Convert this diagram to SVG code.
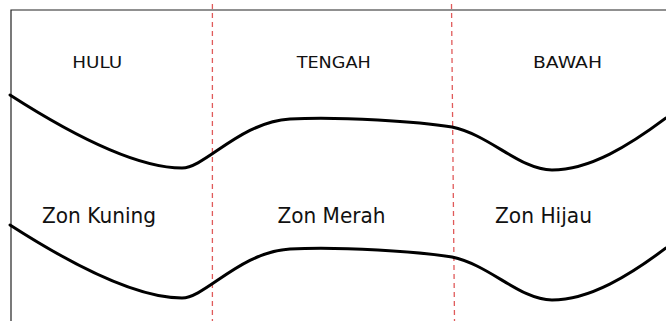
<svg xmlns="http://www.w3.org/2000/svg" width="666" height="321" viewBox="0 0 666 321">
<style>
.border{stroke:#222;stroke-width:1.2;fill:none}
.divider{stroke:#e05a5a;stroke-width:1.3;stroke-dasharray:5,4;fill:none}
.river{stroke:#000;stroke-width:3;fill:none;stroke-linecap:round}
.region{font-family:"DejaVu Sans",sans-serif;font-size:16px;fill:#111;text-anchor:middle}
.zone{font-family:"DejaVu Sans",sans-serif;font-size:22px;fill:#111;text-anchor:middle}
</style>
<defs>
<path id="bank" d="M10,95 C80,140 140,168 182,168 C205,168 240,122 290,119 C340,116 420,122 452,127 C490,135 520,170 552,170 C590,170 630,145 666,118"/>
</defs>
<g id="frame">
<path class="border" d="M11,321 V10 H666"/>
</g>
<g id="connectors">
<line class="divider" x1="212.4" y1="4" x2="212.4" y2="321"/>
<line class="divider" x1="451.5" y1="4" x2="454.5" y2="321"/>
<use href="#bank" class="river"/>
<use href="#bank" class="river" transform="translate(0,130)"/>
</g>
<g id="hulu"><text class="region" x="97.3" y="68.3" textLength="50" lengthAdjust="spacingAndGlyphs">HULU</text></g>
<g id="tengah"><text class="region" x="333.7" y="68" textLength="74" lengthAdjust="spacingAndGlyphs">TENGAH</text></g>
<g id="bawah"><text class="region" x="567.5" y="68" textLength="69" lengthAdjust="spacingAndGlyphs">BAWAH</text></g>
<g id="zon-kuning"><text class="zone" x="99" y="223" textLength="114" lengthAdjust="spacingAndGlyphs">Zon Kuning</text></g>
<g id="zon-merah"><text class="zone" x="331.5" y="223" textLength="108" lengthAdjust="spacingAndGlyphs">Zon Merah</text></g>
<g id="zon-hijau"><text class="zone" x="543.5" y="223" textLength="97" lengthAdjust="spacingAndGlyphs">Zon Hijau</text></g>
</svg>
